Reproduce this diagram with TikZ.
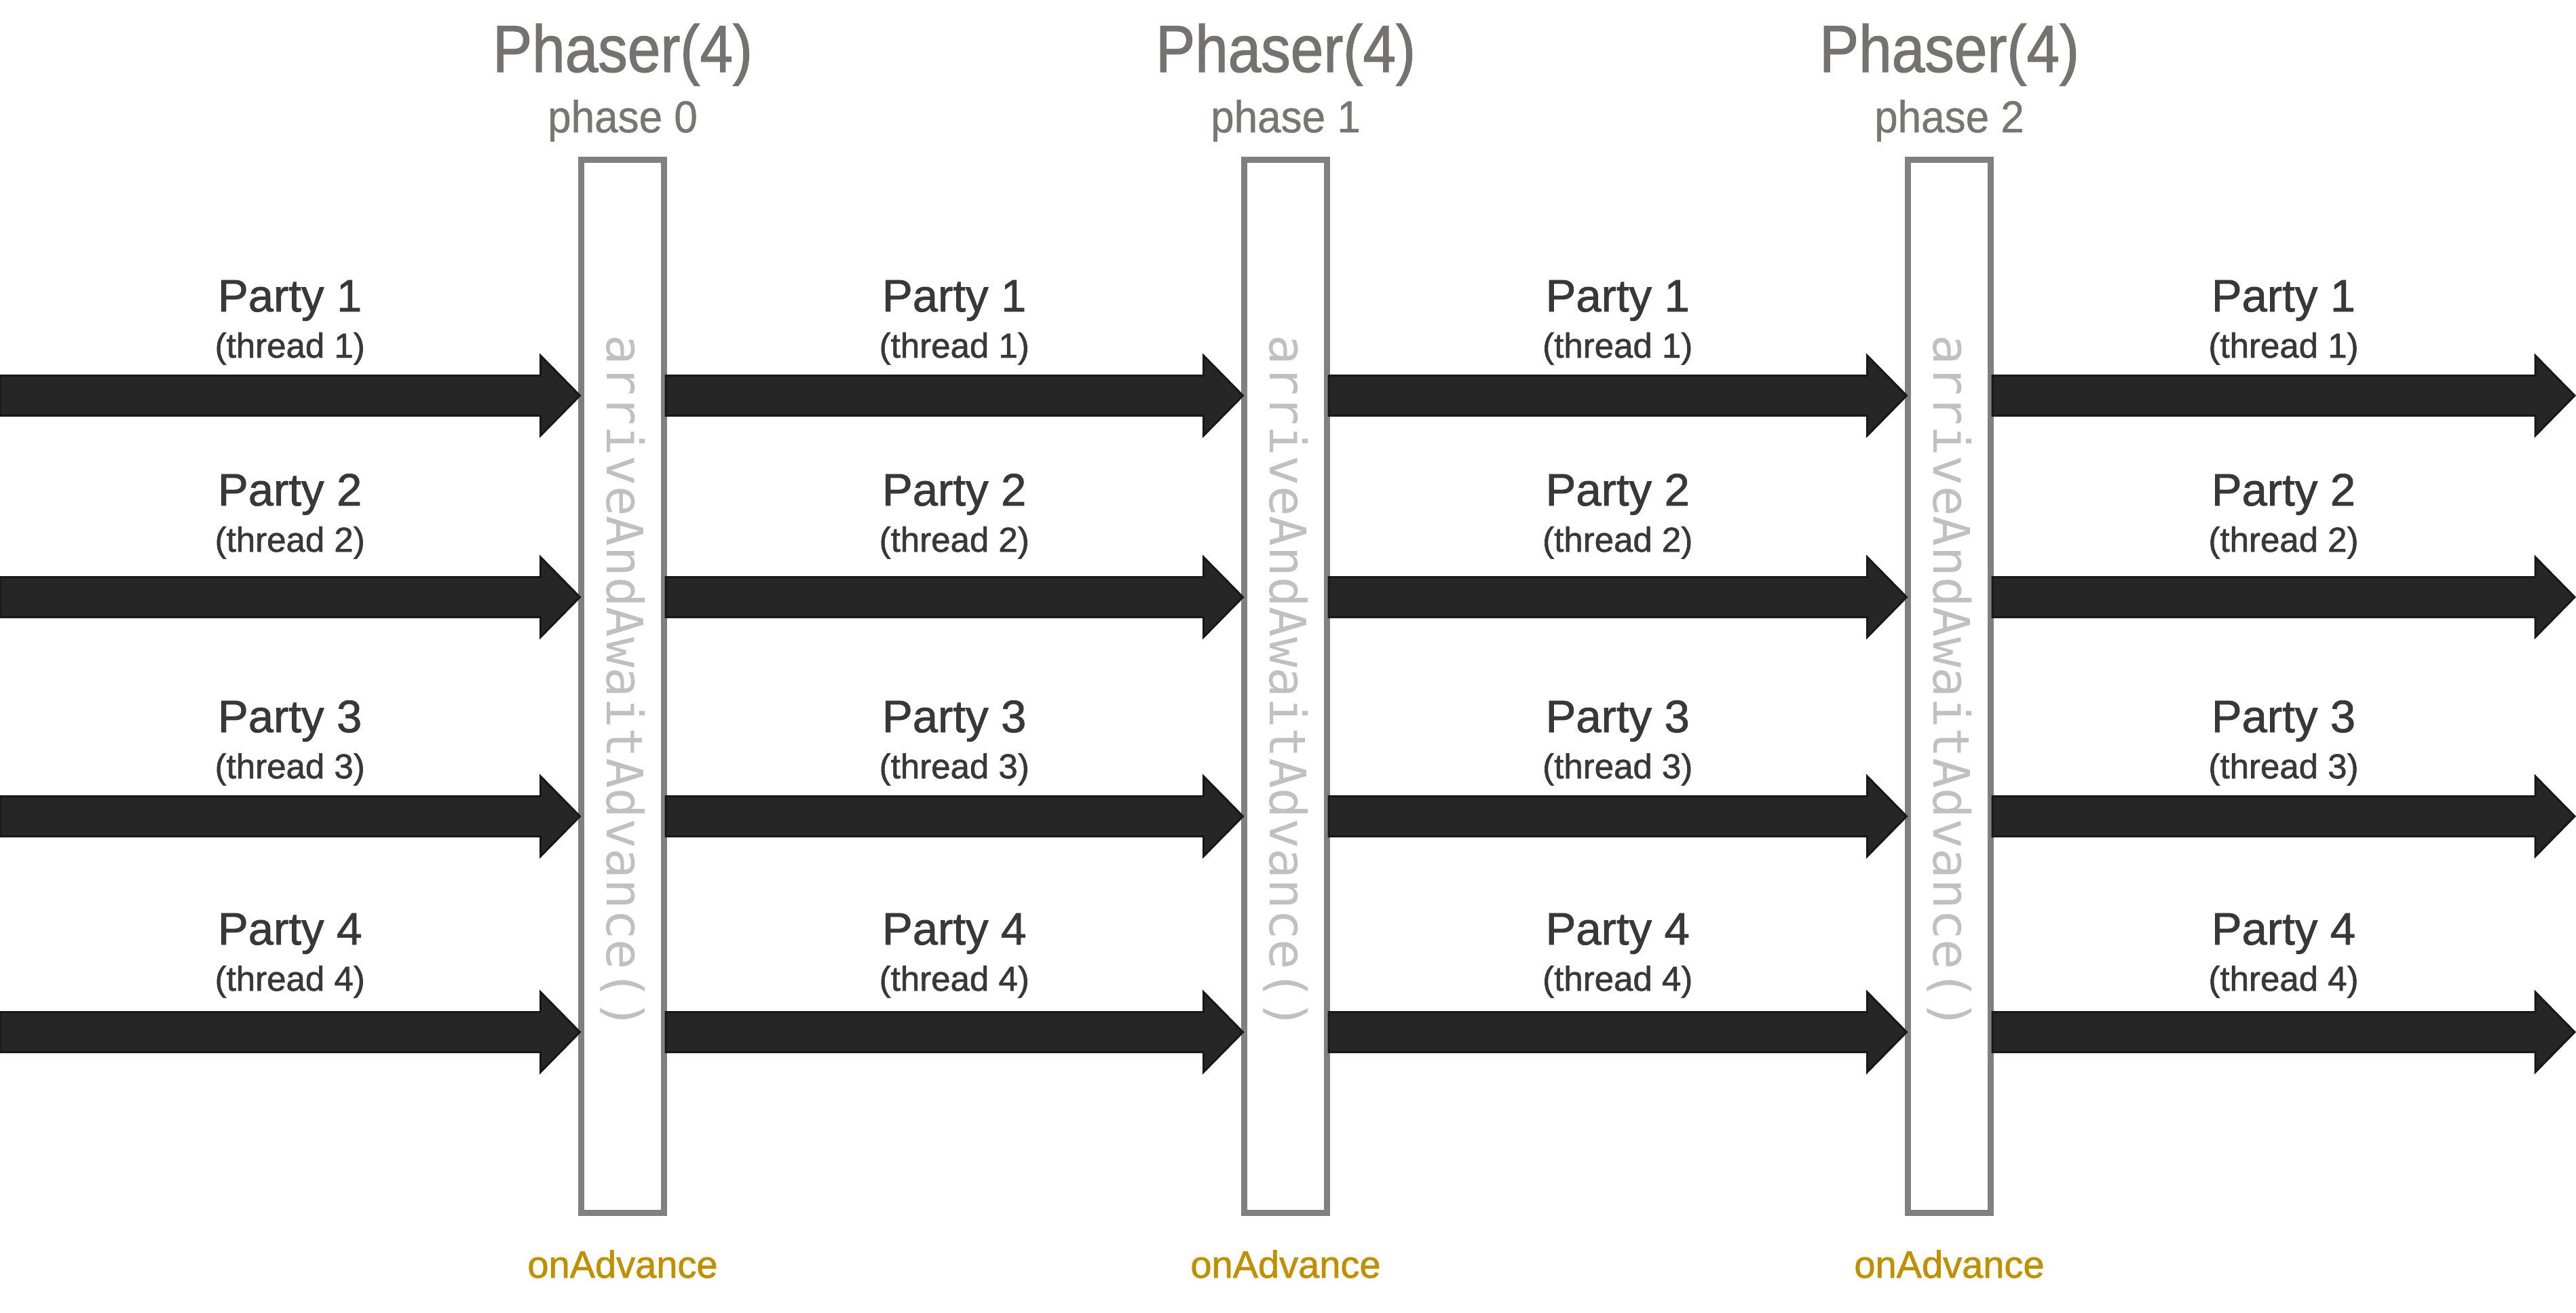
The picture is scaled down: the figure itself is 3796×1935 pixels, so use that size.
\documentclass[tikz,border=0pt]{standalone}
\usepackage{fontspec}
\setmainfont{Liberation Sans}[FakeBold=0.8,BoldFont={Liberation Sans}]
\newfontfamily\partyfont{Liberation Sans}[FakeBold=1.2]
\newfontfamily\titlefont{Liberation Sans}[FakeStretch=0.89,FakeBold=1.2]
\newfontfamily\phasefont{Liberation Sans}[FakeStretch=0.94,FakeBold=0.6]
\newfontfamily\codefont{DejaVu Sans Mono}
\usetikzlibrary{calc}
\definecolor{boxgray}{RGB}{128,128,128}
\definecolor{arrowfill}{RGB}{38,38,38}
\definecolor{arrowedge}{RGB}{24,24,24}
\definecolor{titlegray}{RGB}{118,114,113}
\definecolor{phasegray}{RGB}{120,117,116}
\definecolor{monogray}{RGB}{192,192,192}
\definecolor{partytext}{RGB}{56,56,56}
\definecolor{advgold}{RGB}{191,144,0}
\tikzset{
  phbox/.style={draw=boxgray, line width=9pt, fill=white, minimum width=122pt, minimum height=1552pt, inner sep=0pt},
  fatarrow/.style={fill=arrowfill, draw=arrowedge, line width=3pt, line join=miter},
  titlelabel/.style={inner sep=0pt, anchor=base, text=titlegray, font=\titlefont\fontsize{98pt}{98pt}\selectfont},
  phaselabel/.style={inner sep=0pt, anchor=base, text=phasegray, font=\phasefont\fontsize{66pt}{66pt}\selectfont},
  monolabel/.style={inner sep=0pt, text=monogray, font=\codefont\fontsize{74pt}{74pt}\selectfont},
  advlabel/.style={inner sep=0pt, anchor=base, text=advgold, font=\partyfont\fontsize{56pt}{56pt}\selectfont},
  partylabel/.style={inner sep=0pt, anchor=base, text=partytext, font=\partyfont\fontsize{67pt}{67pt}\selectfont},
  threadlabel/.style={inner sep=0pt, anchor=base, text=partytext, font=\partyfont\fontsize{51pt}{51pt}\selectfont},
}
\newcommand\fatarrow[2]{%
  \path[fatarrow] let \p1=(#1), \p2=(#2) in
    (\x1,\y1+29.5pt) -- (\x2-58pt,\y1+29.5pt) -- (\x2-58pt,\y1+59pt) -- (\x2,\y1)
    -- (\x2-58pt,\y1-59pt) -- (\x2-58pt,\y1-29.5pt) -- (\x1,\y1-29.5pt) -- cycle;}
\begin{document}
\begin{tikzpicture}[x=1pt,y=-1pt]
\useasboundingbox[fill=white] (0,0) rectangle (3796,1935);
% phaser boxes and their labels
\foreach \j/\x/\ph in {1/917.5/0, 2/1894.5/1, 3/2872.5/2} {
  \node[phbox] (b\j) at (\x,1011.5) {};
  \node[monolabel, rotate=-90] (m\j) at (\x,1006) {arriveAndAwaitAdvance()};
  \node[titlelabel] (t\j) at (\x,106) {Phaser(4)};
  \node[phaselabel] (p\j) at (\x,195) {phase \ph};
  \node[advlabel] (o\j) at (\x,1883) {onAdvance};
}
% parties
\foreach \i/\ry/\py/\ty in {1/583/459/527, 2/880/745/813, 3/1203/1079/1147, 4/1521/1392/1460} {
  \coordinate (s\i) at (0,\ry);
  \coordinate (e\i) at (3794,\ry);
  \coordinate (ly\i) at (0,\py);
  \coordinate (ty\i) at (0,\ty);
  \coordinate (A\i0) at (s\i);
  \coordinate (B\i0) at ($(b1.west|-s\i)+(2.5,0)$);
  \coordinate (A\i1) at ($(b1.east|-s\i)+(-2,0)$);
  \coordinate (B\i1) at ($(b2.west|-s\i)+(2.5,0)$);
  \coordinate (A\i2) at ($(b2.east|-s\i)+(-2,0)$);
  \coordinate (B\i2) at ($(b3.west|-s\i)+(2.5,0)$);
  \coordinate (A\i3) at ($(b3.east|-s\i)+(-2,0)$);
  \coordinate (B\i3) at (e\i);
  \foreach \k in {0,1,2,3} {
    \fatarrow{A\i\k}{B\i\k}
    \coordinate (M\i\k) at ($(A\i\k)!0.5!(B\i\k)$);
    \node[partylabel] (P\i\k) at (M\i\k |- ly\i) {Party \i};
    \node[threadlabel] (T\i\k) at (M\i\k |- ty\i) {(thread \i)};
  }
}
\end{tikzpicture}
\end{document}
